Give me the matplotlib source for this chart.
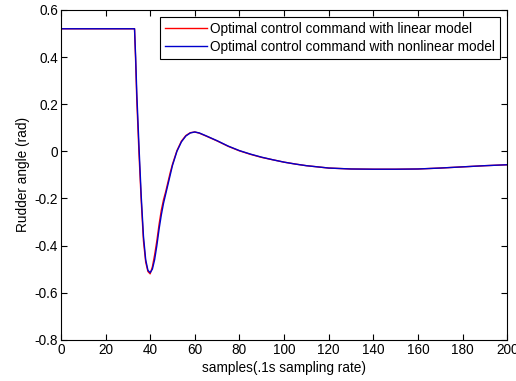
import numpy as np
import matplotlib
matplotlib.use("Agg")
import matplotlib.pyplot as plt

plt.rcParams['font.family'] = ['Liberation Sans', 'DejaVu Sans']

# sample index and rudder command (rad)
samples = [0, 10, 20, 30, 33, 33.5, 34, 35, 36, 37, 38, 39, 40, 41, 42, 43, 44, 45,
           46, 47, 48, 49, 50, 52, 54, 56, 58, 60, 62, 65, 70, 75, 80, 85, 90, 95,
           100, 105, 110, 115, 120, 130, 140, 150, 160, 170, 180, 190, 200]
nonlinear_cmd = [0.52, 0.52, 0.52, 0.52, 0.52, 0.40, 0.25, 0.02, -0.19, -0.36, -0.46,
                 -0.505, -0.515, -0.50, -0.46, -0.40, -0.33, -0.27, -0.22, -0.18,
                 -0.14, -0.10, -0.06, 0.0, 0.04, 0.065, 0.078, 0.082, 0.078, 0.066,
                 0.045, 0.022, 0.003, -0.012, -0.025, -0.036, -0.046, -0.054,
                 -0.061, -0.066, -0.071, -0.075, -0.076, -0.076, -0.075, -0.071,
                 -0.066, -0.061, -0.057]
linear_cmd = [0.52, 0.52, 0.52, 0.52, 0.52, 0.38, 0.22, -0.01, -0.21, -0.38, -0.47,
              -0.51, -0.52, -0.49, -0.44, -0.38, -0.31, -0.25, -0.205, -0.17,
              -0.13, -0.09, -0.055, 0.003, 0.043, 0.067, 0.079, 0.082, 0.077, 0.065,
              0.044, 0.021, 0.002, -0.013, -0.026, -0.036, -0.046, -0.054,
              -0.061, -0.066, -0.071, -0.075, -0.076, -0.076, -0.075, -0.071,
              -0.066, -0.061, -0.057]

fs = 9.8

fig = plt.figure(figsize=(5.16, 3.81), dpi=100)
ax = fig.add_axes([0.118, 0.108, 0.865, 0.866])

ax.plot(samples, linear_cmd, color='red', lw=1.0,
        label='Optimal control command with linear model')
ax.plot(samples, nonlinear_cmd, color='#0000cc', lw=1.0,
        label='Optimal control command with nonlinear model')

ax.set_xlim(0, 200)
ax.set_ylim(-0.8, 0.6)
ax.set_xticks(np.arange(0, 201, 20))
ax.set_yticks(np.arange(-0.8, 0.61, 0.2))
ax.set_yticklabels(['-0.8', '-0.6', '-0.4', '-0.2', '0', '0.2', '0.4', '0.6'])
ax.tick_params(direction='in', top=True, right=True, labelsize=fs, length=4,
               width=0.8, pad=2)
for s in ax.spines.values():
    s.set_linewidth(0.8)

ax.set_xlabel('samples(.1s sampling rate)', fontsize=fs, labelpad=3)
ax.set_ylabel('Rudder angle (rad)', fontsize=fs, labelpad=3)

leg = ax.legend(loc='upper right', fontsize=fs, fancybox=False, framealpha=1,
                edgecolor='black', borderpad=0.35, labelspacing=0.3,
                handlelength=3.1, handletextpad=0.2, borderaxespad=0.55)
leg.get_frame().set_linewidth(0.8)

fig.savefig('out.png', dpi=100)
